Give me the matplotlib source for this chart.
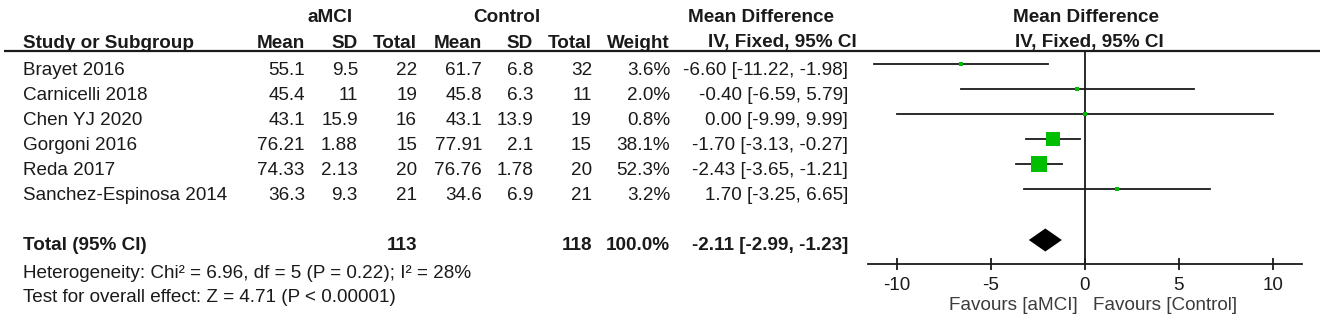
import matplotlib
matplotlib.use("Agg")
import matplotlib.pyplot as plt
import numpy as np

plt.rcParams['font.family'] = ['Liberation Sans', 'DejaVu Sans']

# ---------------- data ----------------
studies = ["Brayet 2016", "Carnicelli 2018", "Chen YJ 2020", "Gorgoni 2016",
           "Reda 2017", "Sanchez-Espinosa 2014"]
amci_mean = ["55.1", "45.4", "43.1", "76.21", "74.33", "36.3"]
amci_sd = ["9.5", "11", "15.9", "1.88", "2.13", "9.3"]
amci_n = [22, 19, 16, 15, 20, 21]
ctrl_mean = ["61.7", "45.8", "43.1", "77.91", "76.76", "34.6"]
ctrl_sd = ["6.8", "6.3", "13.9", "2.1", "1.78", "6.9"]
ctrl_n = [32, 11, 19, 15, 20, 21]
weight = [3.6, 2.0, 0.8, 38.1, 52.3, 3.2]
md = [-6.60, -0.40, 0.00, -1.70, -2.43, 1.70]
ci_lo = [-11.22, -6.59, -9.99, -3.13, -3.65, -3.25]
ci_hi = [-1.98, 5.79, 9.99, -0.27, -1.21, 6.65]

total_amci_n = 113
total_ctrl_n = 118
total_weight = 100.0
total_md = -2.11
total_lo = -2.99
total_hi = -1.23

heterogeneity = "Heterogeneity: Chi\u00b2 = 6.96, df = 5 (P = 0.22); I\u00b2 = 28%"
overall = "Test for overall effect: Z = 4.71 (P < 0.00001)"
xticks = [-10, -5, 0, 5, 10]
xticklabels = ["-10", "-5", "0", "5", "10"]

# ---------------- layout ----------------
W, H = 1325, 327
FS = 13.6
TXT = '#1a1a1a'
GREEN = '#00bf00'

fig = plt.figure(figsize=(W / 100, H / 100), dpi=100)
bg = fig.add_axes([0, 0, 1, 1])
bg.set_xlim(0, W)
bg.set_ylim(H, 0)
bg.axis('off')

row_line_y = [64 + 25 * i for i in range(len(studies))]
text_dy = 6.5
total_y = 240
axis_y = 264
header_line_y = 51

col_name = 23
col_am_mean, col_am_sd, col_am_n = 305, 358, 417
col_ct_mean, col_ct_sd, col_ct_n = 482, 533, 592
col_w, col_ci = 670, 848

def T(x, y, s, ha='left', bold=False, **kw):
    bg.text(x, y, s, ha=ha, va='center', fontsize=FS, color=TXT,
            fontweight='bold' if bold else 'normal', **kw)

# headers
T(330, 18, "aMCI", ha='center', bold=True)
T(507, 18, "Control", ha='center', bold=True)
T(761, 18, "Mean Difference", ha='center', bold=True)
T(1086, 18, "Mean Difference", ha='center', bold=True)
hy = 43
T(col_name, hy, "Study or Subgroup", bold=True)
T(col_am_mean, hy, "Mean", ha='right', bold=True)
T(col_am_sd, hy, "SD", ha='right', bold=True)
T(col_am_n, hy, "Total", ha='right', bold=True)
T(col_ct_mean, hy, "Mean", ha='right', bold=True)
T(col_ct_sd, hy, "SD", ha='right', bold=True)
T(col_ct_n, hy, "Total", ha='right', bold=True)
T(col_w, hy, "Weight", ha='right', bold=True)
T(857, hy, "IV, Fixed, 95% CI", ha='right', bold=True)
T(1089, hy, "IV, Fixed, 95% CI", ha='center', bold=True)
bg.plot([4, 1320], [header_line_y, header_line_y], color=TXT, lw=1.6,
        solid_capstyle='butt')

# study rows
for i, s in enumerate(studies):
    y = row_line_y[i] + text_dy
    T(col_name, y, s)
    T(col_am_mean, y, amci_mean[i], ha='right')
    T(col_am_sd, y, amci_sd[i], ha='right')
    T(col_am_n, y, str(amci_n[i]), ha='right')
    T(col_ct_mean, y, ctrl_mean[i], ha='right')
    T(col_ct_sd, y, ctrl_sd[i], ha='right')
    T(col_ct_n, y, str(ctrl_n[i]), ha='right')
    T(col_w, y, f"{weight[i]:.1f}%", ha='right')
    T(col_ci, y, f"{md[i]:.2f} [{ci_lo[i]:.2f}, {ci_hi[i]:.2f}]", ha='right')

# total row
ty = total_y + 5
T(col_name, ty, "Total (95% CI)", bold=True)
T(col_am_n, ty, str(total_amci_n), ha='right', bold=True)
T(col_ct_n, ty, str(total_ctrl_n), ha='right', bold=True)
T(col_w, ty, f"{total_weight:.1f}%", ha='right', bold=True)
T(col_ci, ty, f"{total_md:.2f} [{total_lo:.2f}, {total_hi:.2f}]", ha='right', bold=True)
T(col_name, 273, heterogeneity)
T(col_name, 298, overall)

# ---------------- forest panel ----------------
x0, x1 = 868, 1302
fx = fig.add_axes([x0 / W, 0, (x1 - x0) / W, 1])
fx.set_xlim(-11.55, 11.55)
fx.set_ylim(H, 0)
fx.patch.set_alpha(0)
for sp in ['top', 'left', 'right']:
    fx.spines[sp].set_visible(False)
fx.spines['bottom'].set_position(('data', axis_y))
fx.spines['bottom'].set_linewidth(1.3)
fx.spines['bottom'].set_color(TXT)
fx.set_yticks([])
fx.set_xticks(xticks)
fx.set_xticklabels(xticklabels)
fx.tick_params(axis='x', direction='inout', length=8, width=1.3, pad=5,
               labelsize=FS, colors=TXT)

fx.plot([0, 0], [header_line_y, axis_y], color=TXT, lw=1.3)

for i in range(len(studies)):
    y = row_line_y[i]
    fx.plot([ci_lo[i], ci_hi[i]], [y, y], color=TXT, lw=1.3)
    side_px = 2.2 * np.sqrt(weight[i])
    fx.plot(md[i], y, marker='s', ms=max(side_px, 3.2) * 0.72, color=GREEN,
            mec=GREEN, mew=0, zorder=3)

dh = 11.5
fx.fill([total_lo, total_md, total_hi, total_md],
        [total_y, total_y - dh, total_y, total_y + dh], color='black', lw=0)

T(1078, 305, "Favours [aMCI]", ha='right', alpha=0.85)
T(1093, 305, "Favours [Control]", ha='left', alpha=0.85)

fig.savefig('out.png', dpi=100)
